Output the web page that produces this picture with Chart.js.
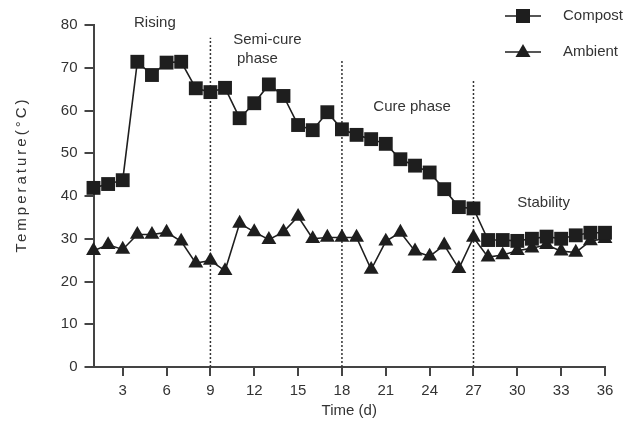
<!DOCTYPE html>
<html>
<head>
<meta charset="utf-8">
<script src="https://cdn.jsdelivr.net/npm/chart.js@4.4.1/dist/chart.umd.min.js"></script>
<style>
html, body { margin: 0; padding: 0; background: #fff; }
#wrap { width: 634px; height: 425px; position: relative; }
</style>
</head>
<body>
<div id="wrap"><canvas id="chart"></canvas></div>
<script>
// Data
var days = [1, 2, 3, 4, 5, 6, 7, 8, 9, 10, 11, 12, 13, 14, 15, 16, 17, 18,
            19, 20, 21, 22, 23, 24, 25, 26, 27, 28, 29, 30, 31, 32, 33, 34, 35, 36];

var compost = [41.9, 42.8, 43.7, 71.4, 68.3, 71.2, 71.4, 65.2, 64.3, 65.3, 58.2, 61.7,
               66.1, 63.4, 56.6, 55.4, 59.6, 55.6, 54.3, 53.3, 52.2, 48.6, 47.1, 45.5,
               41.6, 37.4, 37.1, 29.7, 29.7, 29.5, 30.0, 30.5, 30.0, 30.8, 31.4, 31.4];

var ambient = [27.2, 28.6, 27.5, 31.0, 31.0, 31.5, 29.4, 24.3, 24.9, 22.5, 33.6, 31.6,
               29.8, 31.6, 35.2, 30.0, 30.3, 30.3, 30.3, 22.8, 29.4, 31.5, 27.1, 25.9,
               28.5, 23.0, 30.3, 25.7, 26.2, 27.2, 27.8, 28.6, 27.1, 26.8, 29.5, 30.0];

var xTicks = [3, 6, 9, 12, 15, 18, 21, 24, 27, 30, 33, 36];
var yTicks = [0, 10, 20, 30, 40, 50, 60, 70, 80];

// phase boundaries (day, top of dotted line in °C)
var phaseDays = [9, 18, 27];
var phaseTops = [77, 72, 67];

// phase labels: text lines and anchor in data units
var phaseNames = [['Rising'], ['Semi-cure', 'phase'], ['Cure phase'], ['Stability']];
var phaseNameX = [5.2, 12.9, 22.8, 31.8];
var phaseNameY = [80.4, 76.6, 60.8, 38.4];

var ink = '#1e1e1e';
var textCol = '#333';
var fontFam = '"Liberation Sans", Arial, sans-serif';
var font15 = '15px ' + fontFam;

function toPoints(xs, ys) {
	return xs.map(function (d, i) { return {x: d, y: ys[i]}; });
}

var datasets = [
	{
		label: 'Compost',
		data: toPoints(days, compost),
		borderColor: ink,
		backgroundColor: ink,
		borderWidth: 1.6,
		pointStyle: 'rect',
		pointRadius: 9.8,
		pointBorderWidth: 0,
		clip: false,
		order: 0
	},
	{
		label: 'Ambient',
		data: toPoints(days, ambient),
		borderColor: ink,
		backgroundColor: ink,
		borderWidth: 1.6,
		pointStyle: 'triangle',
		pointRadius: 8.6,
		pointBorderWidth: 0,
		clip: false,
		order: 1
	}
];

phaseDays.forEach(function (d, i) {
	datasets.push({
		label: 'phase' + i,
		data: [{x: d, y: 0}, {x: d, y: phaseTops[i]}],
		borderColor: '#333',
		borderWidth: 1.5,
		borderDash: [2, 2],
		pointRadius: 0,
		order: 2
	});
});

var extras = {
	id: 'extras',
	afterDatasetsDraw: function (chart) {
		var ctx = chart.ctx;
		var xs = chart.scales.x, ys = chart.scales.y;
		ctx.save();
		ctx.fillStyle = textCol;
		ctx.font = font15;
		ctx.textAlign = 'center';
		ctx.textBaseline = 'middle';
		phaseNames.forEach(function (lines, i) {
			var px = xs.getPixelForValue(phaseNameX[i]);
			var py = ys.getPixelForValue(phaseNameY[i]);
			lines.forEach(function (t, j) {
				ctx.fillText(t, px - j * 10, py + j * 19);
			});
		});

		// y axis title, letter spaced
		ctx.save();
		ctx.translate(22, 176);
		ctx.rotate(-Math.PI / 2);
		ctx.letterSpacing = '3px';
		ctx.fillText('Temperature(\u00B0C)', 1.5, 0);
		ctx.restore();

		// legend
		var rows = [{name: 'Compost', y: 16, shape: 'rect'}, {name: 'Ambient', y: 52, shape: 'tri'}];
		rows.forEach(function (r) {
			ctx.strokeStyle = ink;
			ctx.lineWidth = 1.6;
			ctx.beginPath();
			ctx.moveTo(505, r.y);
			ctx.lineTo(541, r.y);
			ctx.stroke();
			ctx.fillStyle = ink;
			if (r.shape === 'rect') {
				ctx.fillRect(516, r.y - 7, 14, 14);
			} else {
				ctx.beginPath();
				ctx.moveTo(523, r.y - 8);
				ctx.lineTo(530.5, r.y + 5);
				ctx.lineTo(515.5, r.y + 5);
				ctx.closePath();
				ctx.fill();
			}
			ctx.fillStyle = textCol;
			ctx.textAlign = 'left';
			ctx.fillText(r.name, 563, r.y);
		});
		ctx.restore();
	}
};

new Chart(document.getElementById('chart').getContext('2d'), {
	type: 'line',
	data: { datasets: datasets },
	options: {
		responsive: true,
		maintainAspectRatio: false,
		animation: false,
		layout: { padding: { top: 25, right: 29, left: 0, bottom: 0 } },
		plugins: { legend: { display: false }, tooltip: { enabled: false } },
		scales: {
			x: {
				type: 'linear',
				min: 1,
				max: 36,
				afterBuildTicks: function (scale) {
					scale.ticks = xTicks.map(function (v) { return {value: v}; });
				},
				afterFit: function (scale) { scale.height = 58; },
				grid: { drawOnChartArea: false, drawTicks: true, tickLength: 9, color: '#444', lineWidth: 2 },
				border: { display: true, color: '#444', width: 2 },
				ticks: { color: textCol, font: { family: fontFam, size: 15 }, padding: 6, maxRotation: 0, autoSkip: false },
				title: { display: true, text: 'Time (d)', color: textCol, font: { family: fontFam, size: 15 }, padding: { top: 0, bottom: 5 } }
			},
			y: {
				min: 0,
				max: 80,
				afterBuildTicks: function (scale) {
					scale.ticks = yTicks.map(function (v) { return {value: v}; });
				},
				afterFit: function (scale) { scale.width = 93.5; },
				grid: { drawOnChartArea: false, drawTicks: true, tickLength: 9, color: '#444', lineWidth: 2 },
				border: { display: true, color: '#444', width: 2 },
				ticks: { color: textCol, font: { family: fontFam, size: 15 }, padding: 7 }
			}
		}
	},
	plugins: [extras]
});
</script>
</body>
</html>
